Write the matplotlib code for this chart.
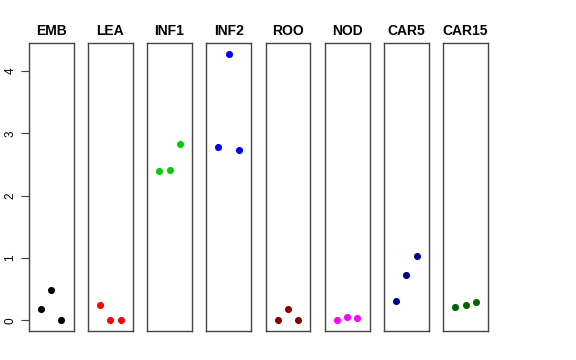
import numpy as np
import matplotlib.pyplot as plt

plt.rcParams['font.family'] = ['Liberation Sans', 'DejaVu Sans']

# tissues and their three replicate values
tissues = ['EMB', 'LEA', 'INF1', 'INF2', 'ROO', 'NOD', 'CAR5', 'CAR15']
values = [
    [0.18, 0.48, 0.0],
    [0.24, 0.0, 0.0],
    [2.39, 2.42, 2.83],
    [2.78, 4.28, 2.73],
    [0.0, 0.18, 0.0],
    [0.0, 0.05, 0.04],
    [0.31, 0.73, 1.03],
    [0.21, 0.24, 0.30],
]
colors = ['black', 'red', '#00CD00', 'blue', '#8B0000', 'magenta', '#00008B', '#006400']

W, H = 576, 360
fig = plt.figure(figsize=(W / 100, H / 100), dpi=100)

left0 = 28.7
pw = 44.8
step = 59.2
top, bottom = 43, 331

ymin, ymax = -0.171, 4.45

for i, (name, vals, col) in enumerate(zip(tissues, values, colors)):
    x0 = left0 + i * step
    ax = fig.add_axes([x0 / W, 1 - bottom / H, pw / W, (bottom - top) / H])
    ax.scatter([1, 2, 3], vals, color=col, s=26, zorder=3, linewidths=0)
    ax.set_xlim(-0.165, 4.165)
    ax.set_ylim(ymin, ymax)
    ax.set_xticks([])
    for sp in ax.spines.values():
        sp.set_color('#444444')
        sp.set_linewidth(1.0)
    ax.set_title(name, fontsize=10, fontweight='bold', pad=6)
    if i == 0:
        ax.set_yticks([0, 1, 2, 3, 4])
        ax.set_yticklabels(['0', '1', '2', '3', '4'], rotation=90, va='center', fontsize=8.5)
        ax.tick_params(axis='y', length=6, width=0.8, pad=3, color='#444444')
    else:
        ax.set_yticks([])

fig.savefig('out.png', dpi=100)
